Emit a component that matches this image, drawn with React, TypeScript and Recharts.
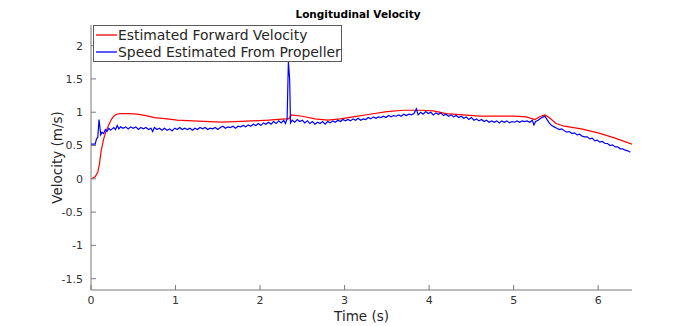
import { LineChart, Line, XAxis, YAxis } from 'recharts';

// [time (s), velocity (m/s)]
const forwardVelocity: [number, number][] = [
  [0, 0], [0.05, 0.03], [0.08, 0.1], [0.1, 0.22], [0.12, 0.42], [0.15, 0.6],
  [0.18, 0.72], [0.21, 0.81], [0.24, 0.89], [0.27, 0.94], [0.3, 0.97],
  [0.35, 0.98], [0.45, 0.98], [0.55, 0.97], [0.65, 0.95], [0.75, 0.92],
  [0.9, 0.9], [1.02, 0.88], [1.2, 0.87], [1.4, 0.86], [1.55, 0.85],
  [1.7, 0.86], [1.9, 0.87], [2.1, 0.88], [2.3, 0.9], [2.34, 0.9],
  [2.37, 0.96], [2.5, 0.94], [2.65, 0.9], [2.8, 0.88], [2.95, 0.9],
  [3.1, 0.93], [3.3, 0.97], [3.5, 1.01], [3.7, 1.03], [3.9, 1.03],
  [4.05, 1.02], [4.2, 0.98], [4.4, 0.96], [4.6, 0.94], [4.8, 0.94],
  [5.0, 0.94], [5.15, 0.93], [5.25, 0.89], [5.32, 0.94], [5.37, 0.96],
  [5.42, 0.92], [5.5, 0.83], [5.6, 0.79], [5.8, 0.75], [6.0, 0.69],
  [6.2, 0.61], [6.4, 0.52],
];

const propellerSpeed: [number, number][] = [
  [0, 0.52], [0.05, 0.52], [0.065, 0.6], [0.08, 0.62], [0.095, 0.89], [0.105, 0.78],
  [0.115, 0.66], [0.13, 0.7], [0.15, 0.68], [0.17, 0.74], [0.19, 0.71], [0.21, 0.76],
  [0.23, 0.73], [0.25, 0.75], [0.27, 0.77], [0.29, 0.74], [0.31, 0.8], [0.33, 0.75],
  [0.35, 0.78], [0.38, 0.76], [0.41, 0.78], [0.44, 0.75], [0.47, 0.78], [0.5, 0.76],
  [0.53, 0.78], [0.56, 0.74], [0.59, 0.77], [0.62, 0.75], [0.65, 0.77], [0.68, 0.74],
  [0.71, 0.76], [0.73, 0.71], [0.75, 0.77], [0.78, 0.74], [0.81, 0.76], [0.84, 0.73],
  [0.87, 0.76], [0.9, 0.73], [0.93, 0.75], [0.96, 0.72], [0.99, 0.76], [1.02, 0.74],
  [1.05, 0.77], [1.08, 0.74], [1.11, 0.76], [1.14, 0.74], [1.17, 0.76], [1.2, 0.73],
  [1.23, 0.76], [1.26, 0.74], [1.29, 0.77], [1.32, 0.75], [1.35, 0.77], [1.38, 0.74],
  [1.41, 0.76], [1.44, 0.75], [1.47, 0.77], [1.5, 0.74], [1.53, 0.77], [1.56, 0.79],
  [1.59, 0.76], [1.62, 0.78], [1.65, 0.77], [1.68, 0.79], [1.71, 0.76], [1.74, 0.79],
  [1.77, 0.78], [1.8, 0.8], [1.83, 0.78], [1.86, 0.81], [1.89, 0.79], [1.92, 0.82],
  [1.95, 0.8], [1.98, 0.83], [2.01, 0.8], [2.04, 0.84], [2.07, 0.82], [2.1, 0.85],
  [2.13, 0.82], [2.16, 0.86], [2.19, 0.83], [2.22, 0.87], [2.25, 0.84], [2.28, 0.88],
  [2.3, 0.83], [2.32, 0.9], [2.335, 1.76], [2.35, 1.5], [2.36, 0.84], [2.38, 0.88],
  [2.41, 0.85], [2.44, 0.89], [2.47, 0.86], [2.5, 0.88], [2.53, 0.84], [2.56, 0.87],
  [2.59, 0.83], [2.62, 0.86], [2.65, 0.82], [2.68, 0.85], [2.71, 0.83], [2.74, 0.86],
  [2.77, 0.82], [2.8, 0.86], [2.83, 0.84], [2.86, 0.87], [2.89, 0.85], [2.92, 0.88],
  [2.95, 0.86], [2.98, 0.89], [3.01, 0.87], [3.04, 0.89], [3.07, 0.87], [3.1, 0.9],
  [3.13, 0.88], [3.16, 0.91], [3.19, 0.88], [3.22, 0.9], [3.25, 0.89], [3.28, 0.92],
  [3.31, 0.9], [3.34, 0.93], [3.37, 0.91], [3.4, 0.93], [3.43, 0.92], [3.46, 0.94],
  [3.49, 0.92], [3.52, 0.95], [3.55, 0.93], [3.58, 0.95], [3.61, 0.94], [3.64, 0.96],
  [3.67, 0.94], [3.7, 0.97], [3.73, 0.95], [3.76, 0.97], [3.79, 0.96], [3.82, 0.98],
  [3.85, 1.05], [3.87, 0.96], [3.9, 1.0], [3.93, 0.97], [3.96, 1.01], [3.99, 0.98],
  [4.02, 1.0], [4.05, 0.96], [4.08, 0.99], [4.11, 0.97], [4.14, 0.99], [4.17, 0.95],
  [4.2, 0.97], [4.23, 0.94], [4.26, 0.96], [4.29, 0.93], [4.32, 0.95], [4.35, 0.92],
  [4.38, 0.94], [4.41, 0.91], [4.44, 0.93], [4.47, 0.89], [4.5, 0.92], [4.53, 0.88],
  [4.56, 0.9], [4.59, 0.87], [4.62, 0.89], [4.65, 0.86], [4.68, 0.88], [4.71, 0.85],
  [4.74, 0.87], [4.77, 0.85], [4.8, 0.87], [4.83, 0.84], [4.86, 0.87], [4.89, 0.85],
  [4.92, 0.87], [4.95, 0.84], [4.98, 0.86], [5.01, 0.85], [5.04, 0.87], [5.07, 0.85],
  [5.1, 0.87], [5.13, 0.86], [5.16, 0.87], [5.19, 0.85], [5.22, 0.88], [5.24, 0.81],
  [5.26, 0.86], [5.29, 0.88], [5.32, 0.91], [5.35, 0.93], [5.37, 0.94], [5.39, 0.9],
  [5.42, 0.84], [5.45, 0.8], [5.48, 0.78], [5.51, 0.76], [5.54, 0.74], [5.57, 0.75],
  [5.6, 0.72], [5.63, 0.7], [5.66, 0.71], [5.69, 0.68], [5.72, 0.69], [5.75, 0.66],
  [5.78, 0.67], [5.81, 0.64], [5.84, 0.63], [5.87, 0.63], [5.9, 0.6], [5.93, 0.61],
  [5.96, 0.57], [5.99, 0.58], [6.02, 0.55], [6.05, 0.56], [6.08, 0.53], [6.11, 0.53],
  [6.14, 0.5], [6.17, 0.51], [6.2, 0.48], [6.23, 0.48], [6.26, 0.45], [6.29, 0.45],
  [6.32, 0.43], [6.35, 0.42], [6.38, 0.4],
];

const timeTicks = [0, 1, 2, 3, 4, 5, 6];
const velocityTicks = [-1.5, -1, -0.5, 0, 0.5, 1, 1.5, 2];
const seriesNames = ['Estimated Forward Velocity', 'Speed Estimated From Propeller'];
const seriesColors = ['#ff0000', '#0000ff'];

const FONT = '"DejaVu Sans", sans-serif';
const AXIS = '#7a7a7a';

const toRows = (pts: [number, number][]) => pts.map(([t, v]) => ({ t, v }));

// legend drawn as an overlay so it doesn't push the plot area down
function LegendBox() {
  return (
    <div
      style={{
        position: 'absolute', left: 93, top: 25, width: 249, height: 37,
        boxSizing: 'border-box', border: '1px solid #5a5a5a', background: '#fff',
        fontFamily: FONT, fontSize: 13.9, color: '#262626', paddingTop: 1,
      }}
    >
      {seriesNames.map((name, i) => (
        <div key={name} style={{ display: 'flex', alignItems: 'center', height: 16.8, whiteSpace: 'nowrap' }}>
          <svg width={21} height={4} style={{ marginLeft: 2, marginRight: 1 }}>
            <line x1={0} y1={2} x2={21} y2={2} stroke={seriesColors[i]} strokeWidth={1.3} />
          </svg>
          <span>{name}</span>
        </div>
      ))}
    </div>
  );
}

export default function App() {
  return (
    <div style={{ position: 'absolute', left: 0, top: 0, width: 698, height: 326, background: '#fff' }}>
      <LineChart width={698} height={326} margin={{ top: 25, right: 66, bottom: 6, left: 41 }}>
        <XAxis
          type="number"
          dataKey="t"
          domain={[0, 6.4]}
          ticks={timeTicks}
          allowDataOverflow
          height={30}
          stroke={AXIS}
          tickSize={-5}
          tickMargin={11}
          tick={{ fill: '#333', fontSize: 11, fontFamily: FONT }}
          label={{ value: 'Time (s)', position: 'insideBottom', offset: -1, style: { fill: '#262626', fontSize: 13.5, fontFamily: FONT } }}
        />
        <YAxis
          type="number"
          domain={[-1.67, 2.31]}
          ticks={velocityTicks}
          allowDataOverflow
          width={50}
          stroke={AXIS}
          tickSize={-5}
          tickMargin={13}
          tick={{ fill: '#333', fontSize: 11, fontFamily: FONT }}
          label={{ value: 'Velocity (m/s)', angle: -90, position: 'insideLeft', offset: 16, style: { textAnchor: 'middle', fill: '#262626', fontSize: 13.5, fontFamily: FONT } }}
        />
        <Line
          data={toRows(forwardVelocity)}
          dataKey="v"
          name={seriesNames[0]}
          stroke={seriesColors[0]}
          strokeWidth={1.2}
          dot={false}
          type="linear"
          isAnimationActive={false}
        />
        <Line
          data={toRows(propellerSpeed)}
          dataKey="v"
          name={seriesNames[1]}
          stroke={seriesColors[1]}
          strokeWidth={1.2}
          dot={false}
          type="linear"
          isAnimationActive={false}
        />
      </LineChart>
      <div
        style={{
          position: 'absolute', left: 258, width: 200, top: 8, textAlign: 'center',
          fontFamily: FONT, fontSize: 10.5, fontWeight: 'bold', color: '#000',
        }}
      >
        Longitudinal Velocity
      </div>
      <LegendBox />
    </div>
  );
}
